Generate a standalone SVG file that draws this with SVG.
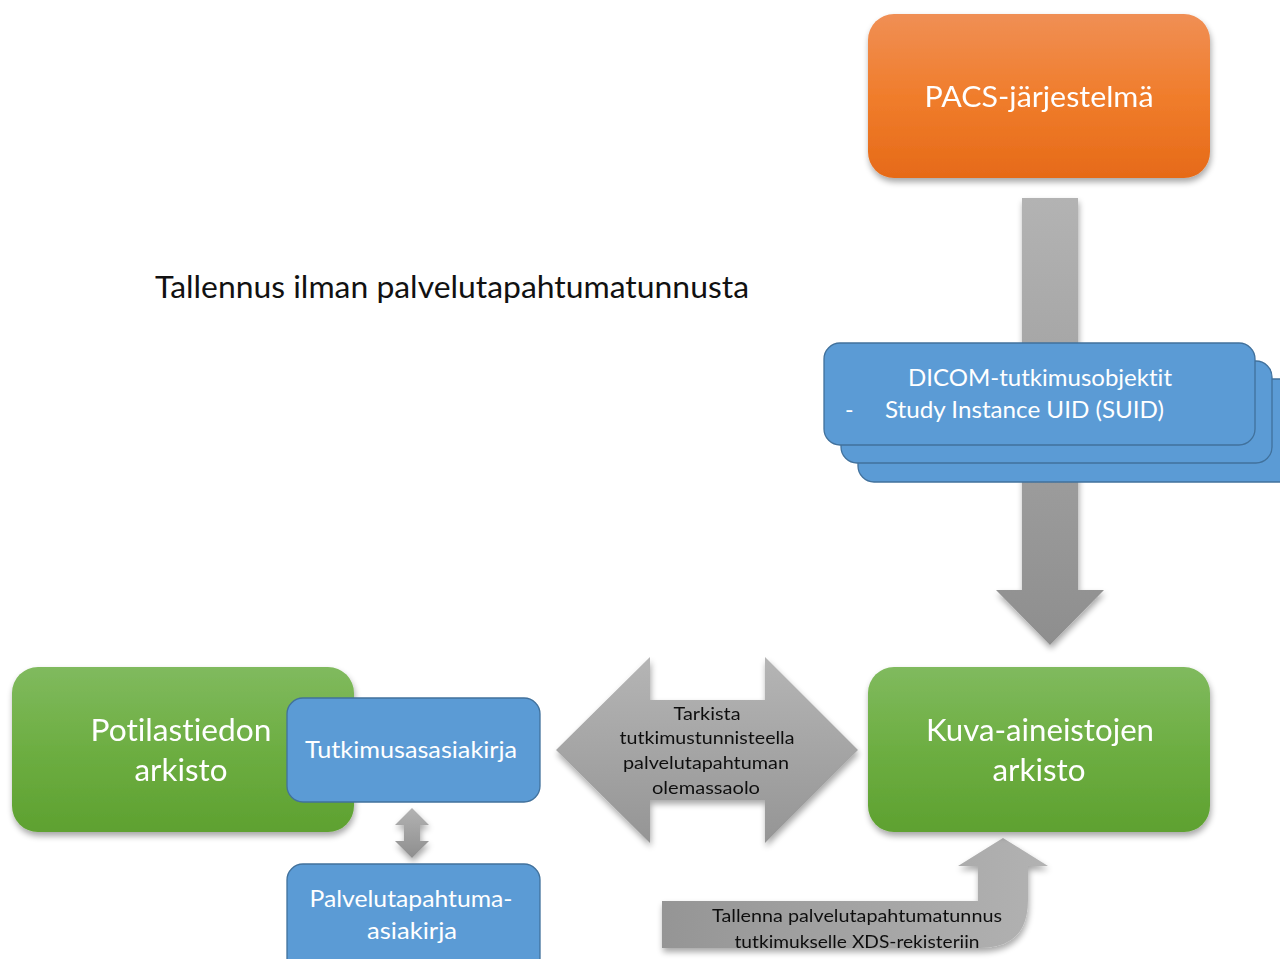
<svg xmlns="http://www.w3.org/2000/svg" width="1280" height="959" viewBox="0 0 1280 959">
<defs>
<linearGradient id="gOrange" x1="0" y1="0" x2="0" y2="1"><stop offset="0" stop-color="#F08F55"/><stop offset="0.5" stop-color="#F07D2C"/><stop offset="1" stop-color="#E66A18"/></linearGradient>
<linearGradient id="gGreen" x1="0" y1="0" x2="0" y2="1"><stop offset="0" stop-color="#80BA5E"/><stop offset="0.5" stop-color="#6DAE42"/><stop offset="1" stop-color="#5EA130"/></linearGradient>
<linearGradient id="gGrayV" x1="0" y1="0" x2="0" y2="1"><stop offset="0" stop-color="#B3B3B3"/><stop offset="1" stop-color="#8E8E8E"/></linearGradient>
<linearGradient id="gGrayH" x1="0" y1="0" x2="0" y2="1"><stop offset="0" stop-color="#B5B5B5"/><stop offset="1" stop-color="#959595"/></linearGradient>
<linearGradient id="gGrayB" x1="0" y1="0" x2="1" y2="0"><stop offset="0" stop-color="#959595"/><stop offset="1" stop-color="#B2B2B2"/></linearGradient>
<filter id="sh" x="-10%" y="-10%" width="125%" height="130%"><feGaussianBlur in="SourceAlpha" stdDeviation="3"/><feOffset dx="1" dy="4"/><feComponentTransfer><feFuncA type="linear" slope="0.35"/></feComponentTransfer><feMerge><feMergeNode/><feMergeNode in="SourceGraphic"/></feMerge></filter>
</defs>
<style>
.t{font-family:Lato,"Noto Sans","Liberation Sans",sans-serif;font-variant-ligatures:none;font-feature-settings:"liga" 0,"dlig" 0;}
.w{fill:#FFFFFF;}
.k{fill:#111111;}
.blue{fill:#5B9BD5;stroke:#41719C;stroke-width:1.3;}
</style>
<rect width="1280" height="959" fill="#FFFFFF"/>
<text class="t k" x="155" y="298" font-size="30" textLength="594" lengthAdjust="spacingAndGlyphs">Tallennus ilman palvelutapahtumatunnusta</text>

<g id="connectors">
  <g id="arrow-down" filter="url(#sh)">
    <path d="M1022,198 H1078 V590 H1104 L1050,645 L996,590 H1022 Z" fill="url(#gGrayV)"/>
  </g>
  <g id="arrow-double" filter="url(#sh)">
    <path d="M556,750 L650,657 V700 H765 V657 L858,750 L765,843 V800 H650 V843 Z" fill="url(#gGrayH)"/>
    <text class="t k" x="707" y="720" font-size="18" text-anchor="middle" textLength="67" lengthAdjust="spacingAndGlyphs">Tarkista</text>
    <text class="t k" x="707" y="744" font-size="18" text-anchor="middle" textLength="175" lengthAdjust="spacingAndGlyphs">tutkimustunnisteella</text>
    <text class="t k" x="706" y="769" font-size="18" text-anchor="middle" textLength="166" lengthAdjust="spacingAndGlyphs">palvelutapahtuman</text>
    <text class="t k" x="706" y="794" font-size="18" text-anchor="middle" textLength="108" lengthAdjust="spacingAndGlyphs">olemassaolo</text>
  </g>
  <g id="arrow-small" filter="url(#sh)">
    <path d="M412,808 L429,825 H420 V841 H429 L412,858 L395,841 H404 V825 H395 Z" fill="url(#gGrayV)"/>
  </g>
  <g id="arrow-bent" filter="url(#sh)">
    <path d="M662,901 H978 V866 H958 L1003,838 L1048,866 H1028 V900 Q1028,948 980,948 H662 Z" fill="url(#gGrayB)"/>
    <text class="t k" x="857" y="922" font-size="18" text-anchor="middle" textLength="290" lengthAdjust="spacingAndGlyphs">Tallenna palvelutapahtumatunnus</text>
    <text class="t k" x="857" y="948" font-size="18" text-anchor="middle" textLength="245" lengthAdjust="spacingAndGlyphs">tutkimukselle XDS-rekisteriin</text>
  </g>
</g>

<g id="pacs" filter="url(#sh)">
  <rect x="868" y="14" width="342" height="164" rx="26" fill="url(#gOrange)"/>
  <text class="t w" x="1039" y="107" font-size="29" text-anchor="middle" textLength="229" lengthAdjust="spacingAndGlyphs">PACS-järjestelmä</text>
</g>

<g id="dicom">
  <rect class="blue" x="858" y="379" width="440" height="103" rx="16"/>
  <rect class="blue" x="841" y="361" width="431" height="102" rx="16"/>
  <rect class="blue" x="824" y="343" width="431" height="102" rx="16"/>
  <text class="t w" x="1040" y="386" font-size="23" text-anchor="middle" textLength="264" lengthAdjust="spacingAndGlyphs">DICOM-tutkimusobjektit</text>
  <text class="t w" x="845" y="418" font-size="23">-</text>
  <text class="t w" x="885" y="418" font-size="23" textLength="279" lengthAdjust="spacingAndGlyphs">Study Instance UID (SUID)</text>
</g>

<g id="kuva" filter="url(#sh)">
  <rect x="868" y="667" width="342" height="165" rx="26" fill="url(#gGreen)"/>
  <text class="t w" x="1040" y="741" font-size="31" text-anchor="middle" textLength="228" lengthAdjust="spacingAndGlyphs">Kuva-aineistojen</text>
  <text class="t w" x="1039" y="781" font-size="31" text-anchor="middle" textLength="93" lengthAdjust="spacingAndGlyphs">arkisto</text>
</g>

<g id="potilas" filter="url(#sh)">
  <rect x="12" y="667" width="342" height="165" rx="26" fill="url(#gGreen)"/>
  <text class="t w" x="181" y="741" font-size="31" text-anchor="middle" textLength="181" lengthAdjust="spacingAndGlyphs">Potilastiedon</text>
  <text class="t w" x="181" y="781" font-size="31" text-anchor="middle" textLength="93" lengthAdjust="spacingAndGlyphs">arkisto</text>
</g>

<g id="tutkimus">
  <rect class="blue" x="287" y="698" width="253" height="104" rx="16"/>
  <text class="t w" x="411" y="758" font-size="23" text-anchor="middle" textLength="212" lengthAdjust="spacingAndGlyphs">Tutkimusasasiakirja</text>
</g>

<g id="palvelu">
  <rect class="blue" x="287" y="864" width="253" height="110" rx="16"/>
  <text class="t w" x="411" y="907" font-size="23" text-anchor="middle" textLength="203" lengthAdjust="spacingAndGlyphs">Palvelutapahtuma-</text>
  <text class="t w" x="412" y="939" font-size="23" text-anchor="middle" textLength="90" lengthAdjust="spacingAndGlyphs">asiakirja</text>
</g>
</svg>
